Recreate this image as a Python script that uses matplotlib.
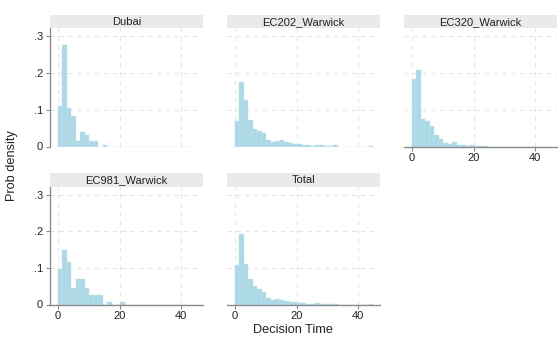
import numpy as np
import matplotlib
matplotlib.use("Agg")
import matplotlib.pyplot as plt

plt.rcParams['font.family'] = ['Liberation Sans', 'DejaVu Sans']

# ---- data ----
panel_names = ["Dubai", "EC202_Warwick", "EC320_Warwick", "EC981_Warwick", "Total"]
bin_start = 0.0
bin_width = 1.45
n_bins = 31

dubai = [0.111, 0.274, 0.105, 0.082, 0.016, 0.038, 0.032, 0.016, 0.016, 0.0, 0.005]
ec202 = [0.070, 0.176, 0.127, 0.073, 0.048, 0.041, 0.037, 0.018, 0.012, 0.016,
         0.018, 0.011, 0.009, 0.007, 0.006, 0.004, 0.003, 0.002, 0.005, 0.003,
         0.002, 0.002, 0.003, 0, 0, 0, 0, 0, 0, 0, 0.002]
ec320 = [0.183, 0.207, 0.075, 0.068, 0.056, 0.032, 0.020, 0.010, 0.008, 0.011,
         0.003, 0.004, 0.002, 0.003, 0.001, 0.001, 0.001]
ec981 = [0.097, 0.150, 0.115, 0.044, 0.069, 0.069, 0.044, 0.026, 0.026, 0.026,
         0.0, 0.008, 0.0, 0.0, 0.008]
total = [0.107, 0.193, 0.112, 0.071, 0.050, 0.042, 0.033, 0.017, 0.0135, 0.0145,
         0.013, 0.010, 0.008, 0.006, 0.0045, 0.003, 0.002, 0.001, 0.0035, 0.002,
         0.001, 0.001, 0.001, 0, 0, 0, 0, 0, 0, 0, 0.001]
panel_data = [dubai, ec202, ec320, ec981, total]

x_ticks = [0, 20, 40]
x_ticklabels = ["0", "20", "40"]
y_ticks = [0, 0.1, 0.2, 0.3]
y_ticklabels = ["0", ".1", ".2", ".3"]
x_title = "Decision Time"
y_title = "Prob density"

# ---- layout (pixels) ----
W, H = 560, 343
fig = plt.figure(figsize=(W / 100, H / 100), dpi=100)
fig.patch.set_facecolor("white")

col_left = [50, 227, 404]
col_w = 153
rows = [(28, 146.5, 14.5), (187, 304.5, 172.5)]  # (plot top, plot bottom, header top)

bar_color = "#ADD8E6"
axis_color = "#8a8a8a"
grid_color = "#e6e6e6"
header_color = "#EAEAEA"

def frac_rect(x0, y_top, w, y_bot):
    return [x0 / W, 1 - y_bot / H, w / W, (y_bot - y_top) / H]

positions = [(0, 0), (0, 1), (0, 2), (1, 0), (1, 1)]
for idx, (r, c) in enumerate(positions):
    top, bot, htop = rows[r]
    ax = fig.add_axes(frac_rect(col_left[c], top, col_w, bot))
    vals = np.zeros(n_bins)
    d = np.array(panel_data[idx], dtype=float)
    vals[:len(d)] = d
    edges = bin_start + bin_width * np.arange(n_bins)
    ax.bar(edges, vals, width=bin_width, align="edge", color=bar_color,
           edgecolor="#c4e4ee", linewidth=0.3, zorder=2)
    ax.set_xlim(-2.6, 47.1)
    ax.set_ylim(0, 0.321)
    ax.set_xticks(x_ticks)
    ax.set_yticks(y_ticks)
    for xv in x_ticks:
        ax.axvline(xv, color=grid_color, lw=0.8, ls=(0, (4, 4)), zorder=1)
    for yv in y_ticks[1:]:
        ax.axhline(yv, color=grid_color, lw=0.8, ls=(0, (4, 4)), zorder=1)
    for s in ["top", "right"]:
        ax.spines[s].set_visible(False)
    show_x = (r == 1) or (c == 2)
    show_y = (c == 0)
    ax.spines["bottom"].set_visible(show_x)
    ax.spines["left"].set_visible(show_y)
    ax.spines["bottom"].set_color(axis_color)
    ax.spines["left"].set_color(axis_color)
    ax.spines["bottom"].set_linewidth(1.0)
    ax.spines["left"].set_linewidth(1.0)
    ax.tick_params(axis="x", length=3 if show_x else 0, color=axis_color,
                   labelsize=8, pad=2, labelbottom=show_x, labelcolor="#222222")
    ax.tick_params(axis="y", length=3 if show_y else 0, color=axis_color,
                   labelsize=8, pad=2, labelleft=show_y, labelcolor="#222222")
    if show_x:
        ax.set_xticklabels(x_ticklabels)
    if show_y:
        ax.set_yticklabels(y_ticklabels)
    ax.set_facecolor("white")

    hax = fig.add_axes(frac_rect(col_left[c], htop, col_w, top))
    hax.set_facecolor(header_color)
    hax.set_xticks([])
    hax.set_yticks([])
    for s in hax.spines.values():
        s.set_visible(False)
    hax.text(0.5, 0.45, panel_names[idx], ha="center", va="center",
             fontsize=8, color="#222222", transform=hax.transAxes)

fig.text(293 / W, 1 - 330 / H, x_title, ha="center", va="center",
         fontsize=9.2, color="#222222")
fig.text(12 / W, 1 - 166 / H, y_title, ha="center", va="center",
         rotation=90, fontsize=9.2, color="#222222")

fig.savefig("out.png", dpi=100, facecolor="white")
